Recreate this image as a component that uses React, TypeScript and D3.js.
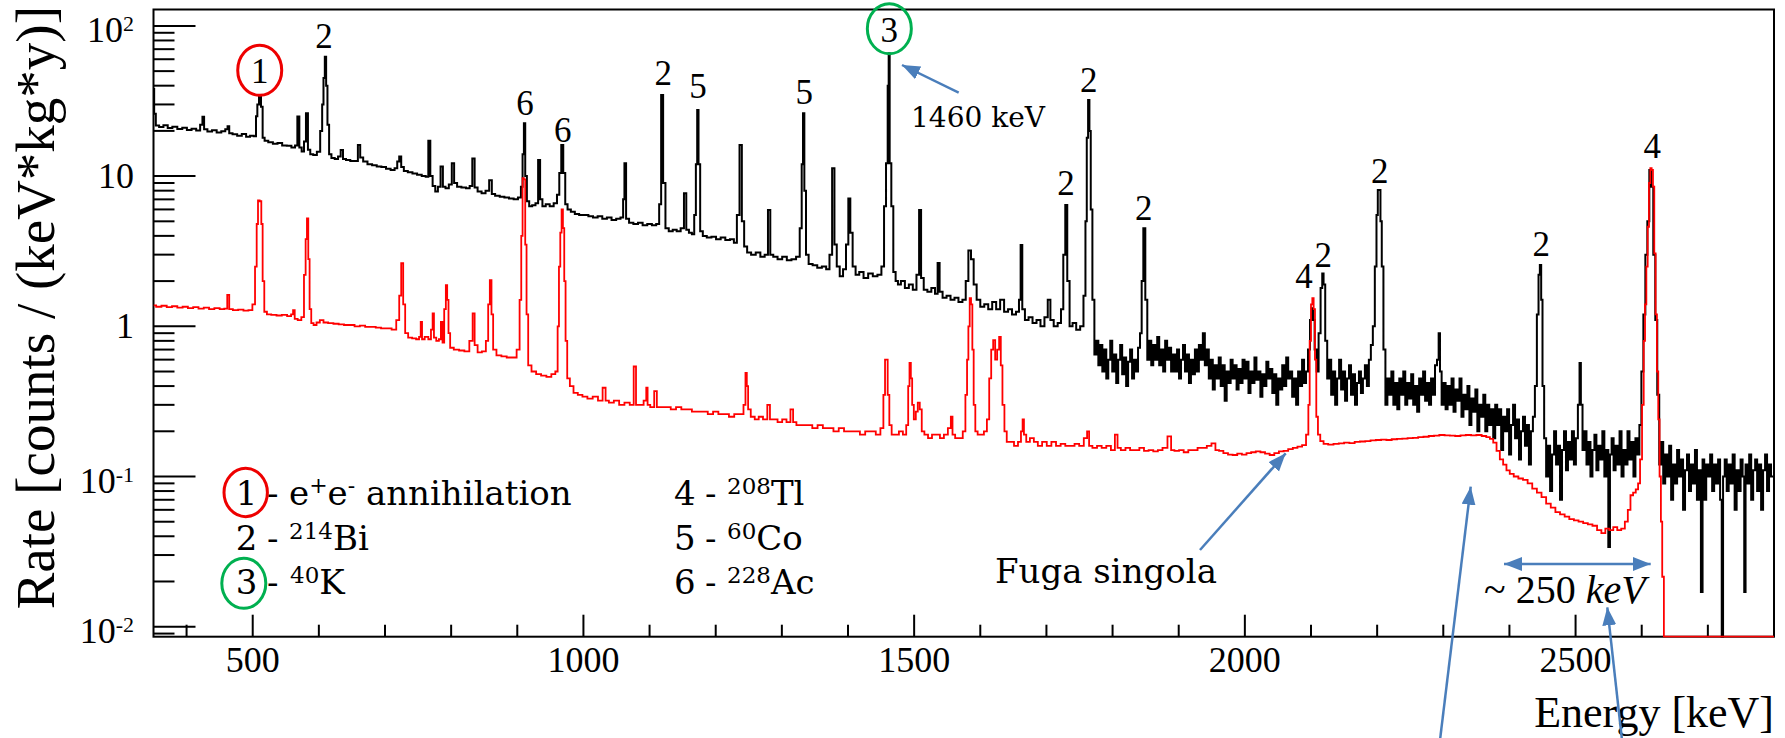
import React from "react";
import * as d3 from "d3";

// ---------- data ----------
const energyDomain: [number, number] = [350, 2800];
const rateDomain: [number, number] = [0.008579, 128.6];
const xMajorTicks = [500, 1000, 1500, 2000, 2500];
const yMajorTicks: { v: number; base: string; exp: string }[] = [
  { v: 100, base: "10", exp: "2" },
  { v: 10, base: "10", exp: "" },
  { v: 1, base: "1", exp: "" },
  { v: 0.1, base: "10", exp: "-1" },
  { v: 0.01, base: "10", exp: "-2" },
];

// black: measured spectrum [energy keV, rate]
const blackSpectrum: [number, number][] = [
  [350, 38], [352, 26], [355, 21.7], [362, 21.2], [368, 21.8], [375, 20.9], [382, 21.3], [390, 20.6], [397, 21], [404, 20.3],
  [411, 20.7], [418, 20.1], [423, 22], [425, 24.8], [428, 20.5], [435, 19.8], [442, 20.2], [449, 19.5], [456, 19.9], [461, 20.5],
  [463, 21.5], [466, 19.3], [473, 19], [480, 18.6], [487, 19.1], [493, 18.3], [499, 18.6], [504, 18.4], [506, 25], [508, 30],
  [511, 34.7], [514, 29], [516, 18], [520, 17.2], [527, 16.8], [534, 16.4], [541, 16.6], [548, 16], [555, 15.9], [562, 15.5],
  [566, 16], [569, 24.9], [572, 15.5], [576, 14.6], [579, 17], [582, 26.2], [585, 15], [589, 14], [594, 13.8], [600, 14.5],
  [604, 20], [606, 30], [608, 45], [610, 62.4], [612, 40], [614, 22], [617, 14], [621, 13.2], [627, 13], [631, 13.5],
  [635, 14.9], [638, 13], [644, 12.8], [651, 12.6], [657, 12.6], [661, 16.1], [664, 13.3], [670, 12.5], [677, 12], [684, 11.8],
  [691, 11.6], [698, 11.5], [705, 11.2], [712, 11], [717, 11.3], [720, 12.5], [723, 13.5], [726, 11.5], [731, 10.8], [738, 10.6],
  [745, 10.4], [752, 10.2], [759, 10], [764, 9.9], [767, 17.2], [770, 10], [774, 8.6], [778, 7.9], [782, 8.5], [786, 11.6],
  [789, 8.5], [794, 8.3], [799, 8.8], [803, 12.2], [806, 9], [812, 8.5], [819, 8.4], [826, 8.3], [830, 8.6], [834, 13.1],
  [837, 8.4], [843, 7.9], [849, 7.7], [855, 8], [860, 9.4], [863, 7.6], [870, 7.4], [877, 7.3], [884, 7.2], [891, 7.1],
  [898, 7.0], [904, 7.2], [907, 8.5], [909, 14], [911, 22.5], [913, 10], [916, 6.8], [920, 6.3], [925, 6.4], [930, 6.6],
  [933, 12.8], [936, 7], [940, 6.3], [946, 6.5], [952, 6.3], [958, 6.6], [962, 7.5], [965, 10.5], [968, 16.1], [971, 10.5],
  [974, 6.5], [978, 6], [984, 5.8], [990, 5.6], [997, 5.5], [1004, 5.5], [1011, 5.4], [1018, 5.3], [1025, 5.4], [1032, 5.2],
  [1039, 5.3], [1046, 5.1], [1053, 5.2], [1059, 5.3], [1061, 7], [1063, 12.2], [1066, 5.2], [1072, 4.9], [1079, 4.8], [1086, 4.9],
  [1093, 4.7], [1100, 4.8], [1107, 4.7], [1113, 4.8], [1116, 6.5], [1119, 34.7], [1122, 9], [1126, 4.5], [1132, 4.3], [1138, 4.4],
  [1144, 4.3], [1150, 4.5], [1154, 7.7], [1157, 4.4], [1162, 4.2], [1166, 4.1], [1169, 5.5], [1171, 12], [1173, 27.5], [1175, 12],
  [1178, 4.3], [1183, 4], [1190, 3.9], [1197, 3.95], [1204, 3.8], [1211, 3.9], [1218, 3.75], [1225, 3.8], [1230, 3.6], [1234, 5.5],
  [1238, 16.1], [1241, 5], [1245, 3.4], [1250, 3.1], [1257, 3.0], [1264, 3.1], [1271, 2.9], [1277, 3.0], [1281, 5.95], [1284, 3.0],
  [1290, 2.9], [1297, 2.8], [1304, 2.9], [1311, 2.75], [1318, 2.8], [1325, 2.9], [1329, 4.5], [1331, 12], [1333, 26.2], [1335, 8],
  [1338, 3], [1343, 2.6], [1350, 2.55], [1357, 2.45], [1364, 2.5], [1370, 2.4], [1374, 3], [1378, 11.3], [1381, 3.5], [1385, 2.5],
  [1390, 2.15], [1395, 2.4], [1399, 3.5], [1402, 7.1], [1405, 4.2], [1409, 2.5], [1414, 2.2], [1420, 2.3], [1427, 2.1], [1434, 2.25],
  [1441, 2.15], [1448, 2.2], [1453, 2.5], [1456, 6.3], [1459, 12.2], [1461, 40], [1462, 65.7], [1464, 12.2], [1467, 6.3], [1470, 2.3],
  [1474, 2.0], [1477, 1.9], [1483, 2.0], [1489, 1.8], [1495, 1.9], [1501, 1.75], [1506, 2.2], [1509, 5.95], [1512, 2.1], [1517, 1.75],
  [1523, 1.7], [1529, 1.8], [1534, 1.65], [1537, 2.64], [1540, 1.7], [1546, 1.55], [1552, 1.6], [1558, 1.5], [1564, 1.55], [1570, 1.45],
  [1576, 1.5], [1580, 2], [1584, 3.2], [1588, 2.8], [1592, 1.9], [1597, 1.5], [1603, 1.35], [1609, 1.4], [1615, 1.3], [1621, 1.45],
  [1627, 1.3], [1633, 1.5], [1639, 1.25], [1645, 1.3], [1651, 1.2], [1657, 1.25], [1660, 1.5], [1662, 3.48], [1665, 1.3], [1670, 1.1],
  [1676, 1.15], [1682, 1.05], [1688, 1.1], [1694, 1.0], [1700, 1.15], [1704, 1.5], [1708, 1.1], [1714, 1.0], [1720, 1.05], [1724, 1.3],
  [1727, 3], [1730, 6.42], [1733, 2], [1737, 1.0], [1742, 1.05], [1748, 0.95], [1754, 1.0], [1758, 1.6], [1760, 5], [1762, 18],
  [1764, 32.1], [1766, 20], [1768, 6], [1771, 1.5], [1774, 0.65], [1777, 0.8], [1780, 0.55], [1783, 0.75], [1786, 0.5], [1789, 0.7],
  [1792, 0.45], [1795, 0.6], [1798, 0.8], [1801, 0.5], [1804, 0.65], [1807, 0.42], [1810, 0.6], [1813, 0.75], [1816, 0.48], [1819, 0.62],
  [1822, 0.4], [1825, 0.58], [1828, 0.7], [1831, 0.45], [1834, 0.6], [1837, 0.5], [1840, 0.72], [1843, 0.9], [1845, 2.0], [1848, 4.49],
  [1851, 1.5], [1854, 0.6], [1857, 0.8], [1860, 0.55], [1863, 0.75], [1866, 0.6], [1869, 0.85], [1872, 0.55], [1875, 0.7], [1878, 0.5],
  [1881, 0.8], [1884, 0.6], [1887, 0.72], [1890, 0.5], [1893, 0.65], [1896, 0.5], [1899, 0.7], [1902, 0.45], [1905, 0.6], [1908, 0.75],
  [1911, 0.5], [1914, 0.65], [1917, 0.42], [1920, 0.6], [1923, 0.48], [1926, 0.7], [1929, 0.5], [1932, 0.75], [1935, 0.6], [1938, 0.9],
  [1941, 0.55], [1944, 0.7], [1947, 0.45], [1950, 0.6], [1953, 0.38], [1956, 0.55], [1959, 0.45], [1962, 0.62], [1965, 0.4], [1968, 0.55],
  [1971, 0.32], [1974, 0.5], [1977, 0.42], [1980, 0.6], [1983, 0.45], [1986, 0.55], [1989, 0.38], [1992, 0.52], [1995, 0.42], [1998, 0.6],
  [2001, 0.45], [2004, 0.58], [2007, 0.36], [2010, 0.5], [2013, 0.42], [2016, 0.62], [2019, 0.44], [2022, 0.5], [2025, 0.34], [2028, 0.48],
  [2031, 0.4], [2034, 0.58], [2037, 0.45], [2040, 0.52], [2043, 0.36], [2046, 0.48], [2049, 0.3], [2052, 0.45], [2055, 0.38], [2058, 0.55],
  [2061, 0.4], [2064, 0.62], [2067, 0.45], [2070, 0.5], [2073, 0.34], [2076, 0.45], [2079, 0.3], [2082, 0.5], [2085, 0.4], [2088, 0.6],
  [2091, 0.42], [2094, 0.5], [2097, 0.7], [2100, 1.1], [2102, 1.32], [2104, 1.1], [2107, 0.7], [2110, 0.5], [2113, 0.9], [2116, 1.8],
  [2118, 2.25], [2120, 1.9], [2123, 0.8], [2126, 0.45], [2129, 0.6], [2132, 0.35], [2135, 0.5], [2138, 0.3], [2141, 0.45], [2144, 0.6],
  [2147, 0.38], [2150, 0.5], [2153, 0.32], [2156, 0.45], [2159, 0.55], [2162, 0.35], [2165, 0.48], [2168, 0.3], [2171, 0.42], [2174, 0.5],
  [2177, 0.36], [2180, 0.45], [2183, 0.55], [2186, 0.4], [2189, 0.6], [2192, 0.75], [2195, 1.0], [2198, 2.5], [2200, 5.5], [2202, 8.07],
  [2204, 8.07], [2206, 5], [2208, 2.5], [2211, 0.7], [2214, 0.3], [2217, 0.45], [2220, 0.35], [2223, 0.5], [2226, 0.3], [2229, 0.42],
  [2232, 0.28], [2235, 0.45], [2238, 0.35], [2241, 0.5], [2244, 0.3], [2247, 0.42], [2250, 0.33], [2253, 0.48], [2256, 0.3], [2259, 0.4],
  [2262, 0.27], [2265, 0.45], [2268, 0.35], [2271, 0.5], [2274, 0.32], [2277, 0.42], [2280, 0.3], [2283, 0.45], [2286, 0.35], [2289, 0.55],
  [2292, 0.6], [2294, 0.9], [2296, 0.5], [2299, 0.3], [2302, 0.42], [2305, 0.28], [2308, 0.4], [2311, 0.3], [2314, 0.45], [2317, 0.27],
  [2320, 0.38], [2323, 0.32], [2326, 0.45], [2329, 0.25], [2332, 0.35], [2335, 0.28], [2338, 0.4], [2341, 0.22], [2344, 0.33], [2347, 0.27],
  [2350, 0.38], [2353, 0.2], [2356, 0.3], [2359, 0.25], [2362, 0.35], [2365, 0.2], [2368, 0.3], [2371, 0.22], [2374, 0.28], [2377, 0.18],
  [2380, 0.3], [2383, 0.22], [2386, 0.28], [2389, 0.15], [2392, 0.25], [2395, 0.2], [2398, 0.28], [2401, 0.14], [2404, 0.22], [2407, 0.3],
  [2410, 0.18], [2413, 0.24], [2416, 0.13], [2419, 0.2], [2422, 0.25], [2425, 0.16], [2428, 0.22], [2431, 0.12], [2434, 0.2], [2437, 0.25],
  [2440, 0.4], [2443, 1.2], [2445, 2.2], [2447, 2.56], [2449, 1.5], [2451, 0.4], [2454, 0.18], [2457, 0.1], [2460, 0.16], [2463, 0.08],
  [2466, 0.14], [2469, 0.2], [2472, 0.12], [2475, 0.16], [2478, 0.07], [2481, 0.15], [2484, 0.2], [2487, 0.11], [2490, 0.17], [2493, 0.13],
  [2496, 0.2], [2499, 0.12], [2502, 0.18], [2505, 0.3], [2507, 0.57], [2509, 0.3], [2512, 0.15], [2515, 0.2], [2518, 0.12], [2521, 0.17],
  [2524, 0.1], [2527, 0.15], [2530, 0.19], [2533, 0.11], [2536, 0.16], [2539, 0.13], [2542, 0.2], [2545, 0.1], [2548, 0.15], [2551, 0.034],
  [2553, 0.14], [2556, 0.18], [2559, 0.11], [2562, 0.16], [2565, 0.12], [2568, 0.2], [2571, 0.1], [2574, 0.15], [2577, 0.12], [2580, 0.2],
  [2583, 0.13], [2586, 0.17], [2589, 0.1], [2592, 0.18], [2595, 0.14], [2598, 0.22], [2601, 0.5], [2604, 1.2], [2607, 3], [2610, 5],
  [2613, 11], [2616, 8.5], [2619, 3], [2622, 1.1], [2625, 0.35], [2628, 0.12], [2631, 0.17], [2634, 0.09], [2637, 0.14], [2640, 0.1],
  [2643, 0.16], [2646, 0.07], [2649, 0.12], [2652, 0.09], [2655, 0.15], [2658, 0.1], [2661, 0.13], [2664, 0.06], [2667, 0.11], [2670, 0.14],
  [2673, 0.08], [2676, 0.12], [2679, 0.09], [2682, 0.15], [2685, 0.07], [2688, 0.11], [2691, 0.017], [2693, 0.13], [2696, 0.07], [2699, 0.12],
  [2702, 0.1], [2705, 0.14], [2708, 0.08], [2711, 0.12], [2714, 0.09], [2717, 0.13], [2720, 0.07], [2722, 0.005], [2724, 0.1], [2727, 0.13],
  [2730, 0.08], [2733, 0.12], [2736, 0.09], [2739, 0.14], [2742, 0.06], [2745, 0.11], [2748, 0.08], [2751, 0.13], [2754, 0.1], [2756, 0.017],
  [2758, 0.12], [2761, 0.09], [2764, 0.14], [2767, 0.07], [2770, 0.11], [2773, 0.13], [2776, 0.08], [2779, 0.12], [2782, 0.06], [2785, 0.11],
  [2788, 0.14], [2791, 0.08], [2794, 0.12], [2797, 0.1], [2800, 0.1],
];

// red: simulated spectrum [energy keV, rate]
const redSpectrum: [number, number][] = [
  [350, 1.38], [358, 1.35], [366, 1.37], [374, 1.34], [382, 1.36], [390, 1.33], [398, 1.35], [406, 1.32], [414, 1.34], [422, 1.31],
  [430, 1.33], [438, 1.3], [446, 1.32], [454, 1.3], [460, 1.31], [463, 1.62], [466, 1.3], [474, 1.28], [482, 1.29], [490, 1.27],
  [497, 1.28], [502, 1.4], [505, 2.5], [507, 4.8], [509, 6.9], [512, 6.8], [514, 4.8], [516, 2], [519, 1.25], [524, 1.2],
  [532, 1.19], [540, 1.18], [548, 1.19], [556, 1.17], [560, 1.2], [562, 1.28], [565, 1.12], [571, 1.1], [576, 1.15], [579, 2.2],
  [581, 3.8], [583, 5.23], [585, 2.8], [587, 1.3], [590, 1.05], [594, 1.02], [599, 1.06], [604, 1.1], [610, 1.06], [618, 1.05],
  [626, 1.04], [634, 1.03], [642, 1.02], [650, 1.02], [658, 1.0], [666, 1.01], [674, 0.99], [682, 0.99], [690, 0.98], [698, 0.97],
  [706, 0.97], [714, 0.95], [720, 1.1], [723, 1.6], [726, 2.63], [729, 1.4], [732, 0.9], [738, 0.84], [744, 0.83], [750, 0.82],
  [753, 0.85], [755, 1.07], [757, 0.82], [763, 0.85], [768, 0.82], [771, 0.95], [773, 1.22], [775, 0.84], [780, 0.8], [783, 0.82],
  [786, 1.07], [788, 0.78], [791, 1.3], [793, 1.88], [795, 1.5], [797, 0.9], [800, 0.72], [808, 0.7], [816, 0.69], [824, 0.68],
  [831, 0.8], [834, 1.22], [837, 0.75], [843, 0.67], [850, 0.68], [855, 0.8], [857, 1.4], [860, 2.03], [862, 1.2], [865, 0.7],
  [872, 0.64], [880, 0.63], [888, 0.62], [896, 0.62], [902, 0.7], [905, 1.5], [907, 4], [909, 9.7], [911, 9.5], [913, 3.5],
  [915, 1.2], [918, 0.55], [925, 0.5], [932, 0.48], [940, 0.47], [948, 0.46], [955, 0.48], [960, 0.5], [962, 1.0], [964, 2.5],
  [966, 4.2], [968, 6.0], [970, 4.5], [972, 2.0], [974, 0.8], [977, 0.45], [982, 0.4], [988, 0.36], [995, 0.35], [1002, 0.34],
  [1010, 0.33], [1018, 0.34], [1026, 0.32], [1032, 0.39], [1035, 0.32], [1042, 0.31], [1050, 0.32], [1058, 0.3], [1066, 0.31], [1074, 0.3],
  [1078, 0.54], [1081, 0.3], [1088, 0.3], [1094, 0.32], [1096, 0.39], [1098, 0.3], [1104, 0.29], [1110, 0.37], [1112, 0.29], [1120, 0.29],
  [1128, 0.29], [1136, 0.28], [1144, 0.29], [1152, 0.28], [1160, 0.28], [1168, 0.27], [1176, 0.27], [1184, 0.27], [1192, 0.26], [1200, 0.27],
  [1208, 0.26], [1216, 0.26], [1224, 0.25], [1232, 0.26], [1240, 0.26], [1244, 0.3], [1246, 0.49], [1248, 0.4], [1250, 0.28], [1256, 0.25],
  [1262, 0.24], [1268, 0.25], [1275, 0.24], [1281, 0.3], [1283, 0.24], [1290, 0.24], [1297, 0.23], [1304, 0.24], [1310, 0.23], [1316, 0.28],
  [1318, 0.23], [1326, 0.22], [1334, 0.22], [1342, 0.22], [1350, 0.21], [1358, 0.22], [1366, 0.21], [1374, 0.21], [1382, 0.2], [1390, 0.21],
  [1398, 0.2], [1406, 0.2], [1414, 0.2], [1422, 0.19], [1430, 0.2], [1438, 0.2], [1446, 0.19], [1452, 0.21], [1455, 0.35], [1457, 0.6],
  [1459, 0.6], [1461, 0.35], [1464, 0.22], [1468, 0.19], [1474, 0.19], [1480, 0.2], [1486, 0.19], [1490, 0.22], [1492, 0.4], [1494, 0.57],
  [1496, 0.45], [1498, 0.3], [1501, 0.24], [1504, 0.27], [1507, 0.31], [1510, 0.28], [1513, 0.2], [1518, 0.19], [1524, 0.18], [1530, 0.19],
  [1536, 0.19], [1542, 0.18], [1548, 0.19], [1554, 0.21], [1557, 0.25], [1559, 0.19], [1565, 0.18], [1571, 0.18], [1576, 0.2], [1579, 0.35],
  [1581, 0.6], [1583, 1.0], [1585, 1.54], [1587, 1.4], [1589, 0.7], [1591, 0.3], [1594, 0.2], [1598, 0.19], [1603, 0.19], [1608, 0.2],
  [1612, 0.24], [1615, 0.45], [1618, 0.7], [1621, 0.81], [1624, 0.6], [1627, 0.7], [1630, 0.85], [1632, 0.55], [1635, 0.3], [1638, 0.2],
  [1642, 0.17], [1648, 0.17], [1654, 0.16], [1660, 0.17], [1663, 0.2], [1665, 0.24], [1667, 0.19], [1672, 0.17], [1678, 0.18], [1684, 0.17],
  [1690, 0.16], [1697, 0.17], [1704, 0.16], [1711, 0.17], [1718, 0.16], [1725, 0.165], [1732, 0.16], [1739, 0.16], [1746, 0.165], [1753, 0.16],
  [1760, 0.18], [1763, 0.2], [1766, 0.16], [1773, 0.155], [1780, 0.16], [1787, 0.155], [1794, 0.16], [1801, 0.15], [1806, 0.19], [1809, 0.155],
  [1816, 0.15], [1823, 0.155], [1830, 0.15], [1837, 0.15], [1844, 0.155], [1851, 0.148], [1858, 0.15], [1865, 0.147], [1872, 0.15], [1879, 0.155],
  [1887, 0.185], [1890, 0.15], [1897, 0.148], [1904, 0.15], [1911, 0.145], [1918, 0.15], [1925, 0.15], [1932, 0.155], [1939, 0.155], [1946, 0.16],
  [1953, 0.166], [1958, 0.15], [1964, 0.148], [1971, 0.143], [1978, 0.14], [1985, 0.139], [1992, 0.142], [1999, 0.14], [2006, 0.143], [2013, 0.145],
  [2020, 0.147], [2027, 0.145], [2034, 0.142], [2041, 0.139], [2048, 0.143], [2055, 0.147], [2062, 0.148], [2069, 0.152], [2076, 0.155], [2083, 0.158],
  [2090, 0.162], [2095, 0.19], [2097, 0.3], [2099, 0.8], [2101, 1.4], [2103, 1.54], [2105, 1.3], [2107, 0.6], [2109, 0.25], [2112, 0.19],
  [2116, 0.172], [2122, 0.165], [2130, 0.163], [2138, 0.165], [2146, 0.166], [2154, 0.168], [2162, 0.167], [2170, 0.17], [2178, 0.171], [2186, 0.172],
  [2194, 0.174], [2202, 0.175], [2210, 0.176], [2218, 0.175], [2226, 0.177], [2234, 0.178], [2242, 0.179], [2250, 0.18], [2258, 0.181], [2266, 0.183],
  [2274, 0.184], [2282, 0.186], [2290, 0.187], [2298, 0.189], [2306, 0.188], [2314, 0.187], [2322, 0.186], [2330, 0.188], [2338, 0.189], [2346, 0.188],
  [2354, 0.189], [2362, 0.186], [2368, 0.183], [2373, 0.178], [2378, 0.168], [2383, 0.148], [2388, 0.13], [2393, 0.12], [2398, 0.11], [2403, 0.104],
  [2410, 0.1], [2417, 0.097], [2424, 0.095], [2431, 0.09], [2438, 0.083], [2445, 0.078], [2452, 0.073], [2459, 0.066], [2466, 0.062], [2473, 0.058],
  [2480, 0.056], [2487, 0.054], [2494, 0.052], [2501, 0.051], [2508, 0.05], [2515, 0.049], [2522, 0.048], [2529, 0.047], [2536, 0.044], [2542, 0.042],
  [2548, 0.045], [2554, 0.044], [2560, 0.046], [2566, 0.044], [2572, 0.045], [2577, 0.05], [2581, 0.06], [2585, 0.075], [2589, 0.078], [2593, 0.082],
  [2596, 0.09], [2599, 0.13], [2602, 0.3], [2604, 0.8], [2606, 1.4], [2608, 2.5], [2610, 4.6], [2612, 9], [2614, 11.3], [2616, 11],
  [2618, 8.5], [2620, 3.06], [2622, 1.2], [2624, 0.5], [2626, 0.24], [2628, 0.1], [2630, 0.05], [2632, 0.0215], [2635, 0.001], [2800, 0.001],
];

// peak labels: label, energy, rate at text baseline
const peakLabels: { label: string; energy: number; rate: number; ring?: string }[] = [
  { label: "1", energy: 510.6, rate: 41.5, ring: "#ee0000" },
  { label: "2", energy: 607.8, rate: 71.0 },
  { label: "6", energy: 911.7, rate: 25.5 },
  { label: "6", energy: 968.7, rate: 16.9 },
  { label: "2", energy: 1120.8, rate: 40.4 },
  { label: "5", energy: 1173.2, rate: 33.0 },
  { label: "5", energy: 1333.9, rate: 30.2 },
  { label: "3", energy: 1462.5, rate: 78.5, ring: "#00b050" },
  { label: "2", energy: 1729.6, rate: 7.48 },
  { label: "2", energy: 1763.9, rate: 36.5 },
  { label: "2", energy: 1847.0, rate: 5.1 },
  { label: "4", energy: 2089.4, rate: 1.79 },
  { label: "2", energy: 2118.6, rate: 2.49 },
  { label: "2", energy: 2203.9, rate: 8.96 },
  { label: "2", energy: 2448.2, rate: 2.94 },
  { label: "4", energy: 2616.0, rate: 13.1 },
];

// ---------- layout ----------
const W = 1785;
const H = 738;
const PL = 153.5, PR = 1774, PT = 9.5, PB = 636.7;
const SERIF = "'Liberation Serif', 'Times New Roman', serif";
const DSERIF = "'DejaVu Serif', serif";
const BLUE = "#4a7ebb";

export default function App() {
  const x = d3.scaleLinear().domain(energyDomain).range([PL, PR]);
  const y = d3.scaleLog().domain(rateDomain).range([PB, PT]).clamp(true);

  const line = d3
    .line<[number, number]>()
    .x((d) => x(d[0]))
    .y((d) => y(Math.max(d[1], 1e-5)))
    .curve(d3.curveStep);

  const xMinor = d3.range(400, 2800, 100).filter((v) => v % 500 !== 0);
  const yMinor: number[] = [];
  for (let e = -3; e <= 2; e++) {
    for (let k = 2; k <= 9; k++) {
      const v = k * Math.pow(10, e);
      if (v >= rateDomain[0] && v <= rateDomain[1]) yMinor.push(v);
    }
  }

  return (
    <svg
      width={W}
      height={H}
      style={{ position: "absolute", left: 0, top: 0, background: "#fff" }}
    >
      <defs>
        <clipPath id="plotClip">
          <rect x={PL} y={PT} width={PR - PL} height={PB - PT + 1} />
        </clipPath>
        <marker
          id="arrowHead"
          markerUnits="userSpaceOnUse"
          markerWidth={20}
          markerHeight={16}
          refX={18}
          refY={7}
          orient="auto-start-reverse"
        >
          <path d="M0,0 L18,7 L0,14 z" fill={BLUE} />
        </marker>
      </defs>

      <rect x={0} y={0} width={W} height={H} fill="#fff" />

      {/* frame */}
      <rect x={PL} y={PT} width={PR - PL} height={PB - PT} fill="none" stroke="#000" strokeWidth={2} />

      {/* x ticks */}
      {xMajorTicks.map((t) => (
        <g key={"xM" + t}>
          <line x1={x(t)} x2={x(t)} y1={PB} y2={PB - 22} stroke="#000" strokeWidth={2} />
          <text x={x(t)} y={671.7} textAnchor="middle" fontFamily={SERIF} fontSize={36}>
            {t}
          </text>
        </g>
      ))}
      {xMinor.map((t) => (
        <line key={"xm" + t} x1={x(t)} x2={x(t)} y1={PB} y2={PB - 12} stroke="#000" strokeWidth={2} />
      ))}

      {/* y ticks */}
      {yMajorTicks.map((t) => (
        <g key={"yM" + t.v}>
          <line x1={PL} x2={PL + 42} y1={y(t.v)} y2={y(t.v)} stroke="#000" strokeWidth={2} />
          <text
            x={134}
            y={y(t.v) + (t.exp ? 16 : 11.5)}
            textAnchor="end"
            fontFamily={SERIF}
            fontSize={36}
          >
            {t.base}
            {t.exp ? (
              <tspan dy={-11} fontSize={22}>
                {t.exp}
              </tspan>
            ) : null}
          </text>
        </g>
      ))}
      {yMinor.map((v) => (
        <line key={"ym" + v} x1={PL} x2={PL + 21} y1={y(v)} y2={y(v)} stroke="#000" strokeWidth={2} />
      ))}

      {/* spectra */}
      <g clipPath="url(#plotClip)">
        <path d={line(blackSpectrum) || ""} fill="none" stroke="#000" strokeWidth={2} />
        <path d={line(redSpectrum) || ""} fill="none" stroke="#ff0000" strokeWidth={1.8} />
      </g>

      {/* axis titles */}
      <text x={PR} y={727} textAnchor="end" fontFamily={SERIF} fontSize={44}>
        Energy [keV]
      </text>
      <text
        transform="translate(54,6) rotate(-90)"
        textAnchor="end"
        fontFamily={SERIF}
        fontSize={55}
      >
        Rate [counts / (keV*kg*y)]
      </text>

      {/* peak labels */}
      {peakLabels.map((p, i) => (
        <g key={"pl" + i}>
          <text x={x(p.energy)} y={y(p.rate)} textAnchor="middle" fontFamily={SERIF} fontSize={35}>
            {p.label}
          </text>
          {p.ring ? (
            <ellipse
              cx={x(p.energy)}
              cy={y(p.rate) - 13}
              rx={22}
              ry={25}
              fill="none"
              stroke={p.ring}
              strokeWidth={3}
            />
          ) : null}
        </g>
      ))}

      {/* 1460 keV annotation */}
      <text x={911} y={126.7} fontFamily={DSERIF} fontSize={28}>
        1460 keV
      </text>
      <line x1={958.7} y1={92.7} x2={902} y2={65} stroke={BLUE} strokeWidth={2.5} markerEnd="url(#arrowHead)" />

      {/* legend left */}
      <ellipse cx={245.7} cy={492.5} rx={21.7} ry={24.2} fill="none" stroke="#ee0000" strokeWidth={3} />
      <ellipse cx={243.8} cy={583.3} rx={22} ry={25} fill="none" stroke="#00b050" strokeWidth={3} />
      <g fontFamily={DSERIF} fontSize={34}>
        <text x={246.5} y={505} textAnchor="middle">1</text>
        <text x={267} y={505}>-</text>
        <text x={289} y={505}>
          e
          <tspan dy={-12} fontSize={22}>+</tspan>
          <tspan dy={12}>e</tspan>
          <tspan dy={-12} fontSize={22}>-</tspan>
          <tspan dy={12}>{" annihilation"}</tspan>
        </text>

        <text x={246.5} y={550} textAnchor="middle">2</text>
        <text x={267} y={550}>-</text>
        <text x={289} y={550}>
          <tspan dy={-11} fontSize={23}>214</tspan>
          <tspan dy={11}>Bi</tspan>
        </text>

        <text x={246.5} y={594} textAnchor="middle">3</text>
        <text x={267} y={594}>-</text>
        <text x={290} y={594}>
          <tspan dy={-11} fontSize={23}>40</tspan>
          <tspan dy={11}>K</tspan>
        </text>

        {/* legend right */}
        <text x={674} y={505}>4</text>
        <text x={705} y={505}>-</text>
        <text x={727} y={505}>
          <tspan dy={-11} fontSize={23}>208</tspan>
          <tspan dy={11}>Tl</tspan>
        </text>

        <text x={674} y={550}>5</text>
        <text x={705} y={550}>-</text>
        <text x={727} y={550}>
          <tspan dy={-11} fontSize={23}>60</tspan>
          <tspan dy={11}>Co</tspan>
        </text>

        <text x={674} y={594}>6</text>
        <text x={705} y={594}>-</text>
        <text x={727} y={594}>
          <tspan dy={-11} fontSize={23}>228</tspan>
          <tspan dy={11}>Ac</tspan>
        </text>

        <text x={995} y={583}>Fuga singola</text>
      </g>

      {/* blue arrows */}
      <line x1={1200} y1={550} x2={1285.7} y2={453.3} stroke={BLUE} strokeWidth={2.5} markerEnd="url(#arrowHead)" />
      <line x1={1440} y1={740} x2={1470.7} y2={486.7} stroke={BLUE} strokeWidth={2.5} markerEnd="url(#arrowHead)" />
      <line x1={1622} y1={740} x2={1607.3} y2={607.3} stroke={BLUE} strokeWidth={2.5} markerEnd="url(#arrowHead)" />
      <line
        x1={1504}
        y1={564}
        x2={1650.7}
        y2={564}
        stroke={BLUE}
        strokeWidth={2.5}
        markerStart="url(#arrowHead)"
        markerEnd="url(#arrowHead)"
      />
      <text x={1484} y={603} fontFamily={SERIF} fontSize={40}>
        {"~ 250 "}
        <tspan fontStyle="italic">keV</tspan>
      </text>
    </svg>
  );
}
